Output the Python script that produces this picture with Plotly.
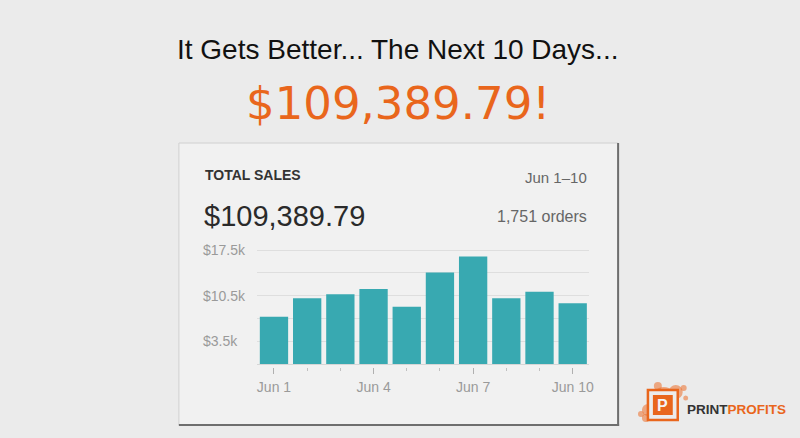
import plotly.graph_objects as go

# ---- data ----
day_index = [1, 2, 3, 4, 5, 6, 7, 8, 9, 10]
daily_sales = [7260, 10090, 10700, 11500, 8800, 14030, 16500, 10090, 11100, 9320]
x_tick_vals = [1, 4, 7, 10]
x_tick_text = ["Jun 1", "Jun 4", "Jun 7", "Jun 10"]
grid_vals = [3500, 7000, 10500, 14000, 17500]
y_label_vals = [3500, 10500, 17500]
y_label_text = ["$3.5k", "$10.5k", "$17.5k"]

headline = "It Gets Better... The Next 10 Days..."
big_total = "$109,389.79!"
card_title = "TOTAL SALES"
card_total = "$109,389.79"
date_range = "Jun 1\u201310"
orders_text = "1,751 orders"

W, H = 800, 438
def px(x):
    return x / W
def py(y):
    return 1 - y / H

BAR = "#38a9b1"
ORANGE = "#e9661c"

fig = go.Figure()
fig.add_trace(go.Bar(x=day_index, y=daily_sales, marker=dict(color=BAR, line=dict(width=0)),
                     hoverinfo="skip"))

shapes = []
# card
shapes.append(dict(type="rect", xref="paper", yref="paper", x0=px(180), x1=px(622), y0=py(425), y1=py(143),
                   fillcolor="#f1f1f1", line=dict(color="#d0d0d0", width=1), layer="below"))
shapes.append(dict(type="line", xref="paper", yref="paper", x0=px(622), x1=px(622), y0=py(426), y1=py(143),
                   line=dict(color="#6e6e6e", width=2), layer="below"))
shapes.append(dict(type="line", xref="paper", yref="paper", x0=px(180), x1=px(623), y0=py(425), y1=py(425),
                   line=dict(color="#6e6e6e", width=2), layer="below"))
# logo splash
for (cx, cy, r) in [(668, 400, 13), (680, 392, 7), (688, 388, 3), (652, 410, 6), (650, 418, 4),
                    (662, 386, 4), (690, 398, 2.5), (645, 414, 3)]:
    shapes.append(dict(type="circle", xref="paper", yref="paper", x0=px(cx - r), x1=px(cx + r),
                       y0=py(cy + r), y1=py(cy - r), fillcolor="rgba(236,110,40,0.55)", line=dict(width=0)))
shapes.append(dict(type="rect", xref="paper", yref="paper", x0=px(652), x1=px(682), y0=py(420), y1=py(390),
                   fillcolor="#ececec", line=dict(color=ORANGE, width=2.5)))
shapes.append(dict(type="rect", xref="paper", yref="paper", x0=px(657), x1=px(677), y0=py(415), y1=py(395),
                   fillcolor=ORANGE, line=dict(width=0)))

ann = []
ann.append(dict(text=headline, x=0.5, y=py(50), xref="paper", yref="paper", xanchor="center", yanchor="middle",
                showarrow=False, font=dict(family="Liberation Sans, sans-serif", size=28, color="#111111")))
ann.append(dict(text=big_total, x=0.5, y=py(103), xref="paper", yref="paper", xanchor="center", yanchor="middle",
                showarrow=False, font=dict(family="DejaVu Sans, sans-serif", size=45, color=ORANGE)))
ann.append(dict(text="<b>" + card_title + "</b>", x=px(204), y=py(175), xref="paper", yref="paper",
                xanchor="left", yanchor="middle", showarrow=False,
                font=dict(family="Liberation Sans, sans-serif", size=14, color="#333333")))
ann.append(dict(text=card_total, x=px(203), y=py(216), xref="paper", yref="paper",
                xanchor="left", yanchor="middle", showarrow=False,
                font=dict(family="Liberation Sans, sans-serif", size=29, color="#2a2a2a")))
ann.append(dict(text=date_range, x=px(593), y=py(178), xref="paper", yref="paper",
                xanchor="right", yanchor="middle", showarrow=False,
                font=dict(family="Liberation Sans, sans-serif", size=15, color="#666666")))
ann.append(dict(text=orders_text, x=px(593), y=py(216), xref="paper", yref="paper",
                xanchor="right", yanchor="middle", showarrow=False,
                font=dict(family="Liberation Sans, sans-serif", size=16, color="#666666")))
for v, t in zip(y_label_vals, y_label_text):
    ann.append(dict(text=t, x=px(202), y=v, xref="paper", yref="y", xanchor="left", yanchor="middle",
                    showarrow=False, font=dict(family="Liberation Sans, sans-serif", size=14, color="#9a9a9a")))
# logo texts
ann.append(dict(text="<b>P</b>", x=px(667), y=py(405), xref="paper", yref="paper", xanchor="center",
                yanchor="middle", showarrow=False, font=dict(family="Liberation Sans, sans-serif", size=16, color="#f4f4f4")))
ann.append(dict(text="<b><span style='color:#333333'>PRINT</span><span style='color:#e9661c'>PROFITS</span></b>",
                x=px(689), y=py(409), xref="paper", yref="paper", xanchor="left", yanchor="middle", showarrow=False,
                font=dict(family="Liberation Sans, sans-serif", size=13.5, color="#333333")))

# y scale: 0 -> 364px, 17.5k -> 250px
ppk = (364 - 250) / 17500.0
y_bottom_px, y_top_px = 367, 243
y_min = -(y_bottom_px - 364) / ppk
y_max = (364 - y_top_px) / ppk

fig.update_layout(
    width=W, height=H, margin=dict(l=0, r=0, t=0, b=0),
    paper_bgcolor="#ebebeb", plot_bgcolor="rgba(0,0,0,0)",
    showlegend=False, bargap=0.147,
    shapes=shapes, annotations=ann,
    xaxis=dict(domain=[px(259), px(593)], range=[0.5, 10.5], tickvals=x_tick_vals, ticktext=x_tick_text,
               ticks="outside", ticklen=6, tickcolor="#b0b0b0", tickwidth=1,
               minor=dict(dtick=1, tick0=0, ticks="outside", ticklen=3, tickcolor="#c0c0c0", showgrid=False),
               showgrid=False, zeroline=False, showline=False,
               tickfont=dict(family="Liberation Sans, sans-serif", size=14, color="#9a9a9a"),
               ticklabelstandoff=1, fixedrange=True),
    yaxis=dict(domain=[py(y_bottom_px), py(y_top_px)], range=[y_min, y_max], tickvals=grid_vals,
               showticklabels=False, showgrid=True, gridcolor="#dedede", gridwidth=1,
               zeroline=True, zerolinecolor="#d6d6d6", zerolinewidth=1, showline=False, fixedrange=True),
)

fig.write_html("out.html", config={"displayModeBar": False},
               post_script="document.body.style.margin='0';document.body.style.background='#ebebeb';")
